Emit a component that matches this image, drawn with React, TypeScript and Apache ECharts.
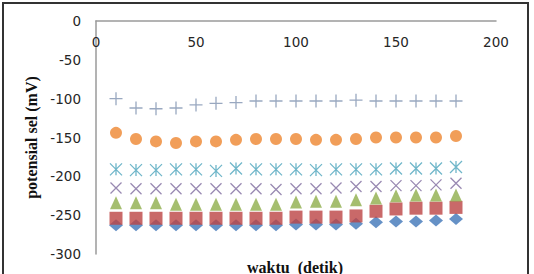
import React, { useEffect, useRef } from "react";
import * as echarts from "echarts";

const xValues = [10, 20, 30, 40, 50, 60, 70, 80, 90, 100, 110, 120, 130, 140, 150, 160, 170, 180];
const diamondSeries = [-263, -263, -263, -263, -263, -263, -263, -263, -263, -262, -262, -262, -261, -259, -258, -258, -257, -255];
const squareSeries = [-254, -254, -254, -254, -254, -254, -254, -254, -254, -252.5, -252.5, -252.5, -251, -245, -242, -241, -241, -240];
const triangleSeries = [-234, -234, -234, -236, -236, -236, -236, -236, -236, -233, -232, -232, -230, -228, -225, -224, -224, -224];
const crossSeries = [-215, -216, -216, -216, -216, -216, -216, -216, -217, -216, -216, -215, -213, -213, -212, -212, -211, -209];
const asteriskSeries = [-191, -192, -192, -191, -191, -193, -190, -191, -191, -191, -192, -191, -191, -191, -190, -190, -190, -188];
const circleSeries = [-144, -152, -155, -157, -155, -155, -153, -152, -152, -152, -153, -153, -152, -150, -150, -150, -150, -148];
const plusSeries = [-100, -112, -113, -112, -108, -106, -105, -103, -103, -103, -103, -103, -102, -103, -103, -103, -103, -103];

const xTicks = { min: 0, max: 200, interval: 50 };
const yTicks = { min: -300, max: 0, interval: 50 };

const PLUS = "path://M5,0L5,10M0,5L10,5";
const CROSS = "path://M0,0L10,10M10,0L0,10";
const ASTER = "path://M0,0L10,10M10,0L0,10M5,0L5,10";

function pts(vals: number[]) {
  return xValues.map((x, i) => [x, vals[i]]);
}

export default function App() {
  const ref = useRef<HTMLDivElement>(null);
  useEffect(() => {
    if (!ref.current) return;
    const chart = echarts.init(ref.current, null, { renderer: "svg" });
    const lineMark = (name: string, data: number[], symbol: string, size: number, color: string) => ({
      name,
      type: "scatter",
      data: pts(data),
      symbol,
      symbolSize: size,
      itemStyle: { color: "none", borderColor: color, borderWidth: 1.3 },
    });
    chart.setOption({
      animation: false,
      backgroundColor: "#ffffff",
      grid: { left: 96, top: 21, right: 38, bottom: 20 },
      xAxis: {
        type: "value",
        position: "top",
        min: xTicks.min,
        max: xTicks.max,
        interval: xTicks.interval,
        axisLine: { show: true, onZero: false, lineStyle: { color: "#9a9a9a", width: 1.5 } },
        axisTick: { show: false },
        splitLine: { show: false },
        axisLabel: {
          inside: true,
          margin: 14,
          color: "#262626",
          fontFamily: "DejaVu Sans",
          fontSize: 13.5,
        },
      },
      yAxis: {
        type: "value",
        min: yTicks.min,
        max: yTicks.max,
        interval: yTicks.interval,
        name: "potensial sel (mV)",
        nameLocation: "middle",
        nameGap: 48,
        nameTextStyle: {
          fontFamily: "Liberation Serif",
          fontWeight: "bold",
          fontSize: 16,
          color: "#111",
        },
        axisLine: { show: true, onZero: false, lineStyle: { color: "#9a9a9a", width: 1.5 } },
        axisTick: { show: false },
        splitLine: { show: false },
        axisLabel: {
          margin: 15,
          color: "#262626",
          fontFamily: "DejaVu Sans",
          fontSize: 13.5,
        },
      },
      graphic: [
        {
          type: "rect",
          shape: { x: 3, y: 3, width: 525, height: 300 },
          style: { fill: "none", stroke: "#333", lineWidth: 2 },
          silent: true,
        },
        {
          type: "text",
          x: 295,
          y: 267,
          style: {
            text: "waktu \u00a0(detik)",
            fontFamily: "Liberation Serif",
            fontWeight: "bold",
            fontSize: 16,
            fill: "#111",
            align: "center",
            verticalAlign: "middle",
          },
        },
      ],
      series: [
        {
          name: "s1",
          type: "scatter",
          data: pts(diamondSeries),
          symbol: "diamond",
          symbolSize: [14, 12],
          itemStyle: { color: "#3E76B8" },
        },
        {
          name: "s2",
          type: "scatter",
          data: pts(squareSeries),
          symbol: "rect",
          symbolSize: 13,
          itemStyle: { color: "#BB4443" },
        },
        {
          name: "s3",
          type: "scatter",
          data: pts(triangleSeries),
          symbol: "triangle",
          symbolSize: [12, 13],
          itemStyle: { color: "#8FAE4B" },
        },
        lineMark("s4", crossSeries, CROSS, 11, "#7E6B9E"),
        lineMark("s5", asteriskSeries, ASTER, 12, "#4BA4BC"),
        {
          name: "s6",
          type: "scatter",
          data: pts(circleSeries),
          symbol: "circle",
          symbolSize: 12,
          itemStyle: { color: "#EE8630" },
        },
        lineMark("s7", plusSeries, PLUS, 13, "#7F92B0"),
      ],
    });
    return () => chart.dispose();
  }, []);
  return (
    <div
      ref={ref}
      style={{ position: "fixed", left: 0, top: 0, width: 534, height: 274, background: "#fff" }}
    />
  );
}
